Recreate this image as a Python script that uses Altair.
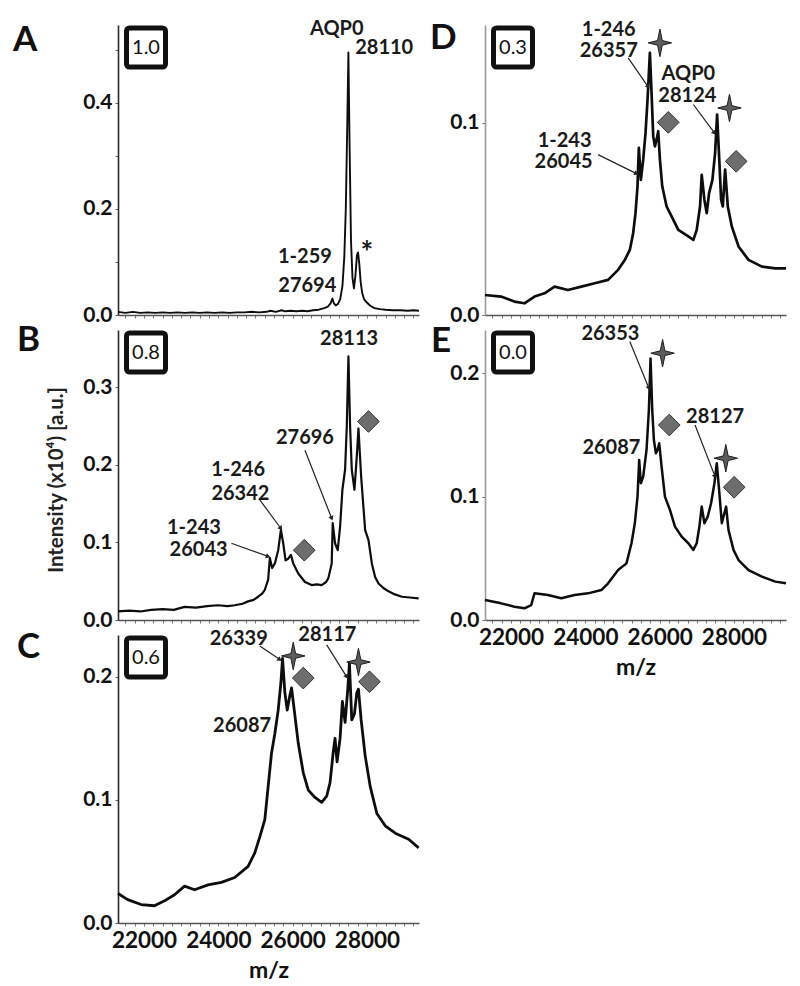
import math
import altair as alt
import pandas as pd

XDOM = [21300, 29400]
W = 301
FONT = "Lato"

# ---------------- spectra (m/z, intensity x10^4) ----------------
A_MZ = [21300, 21500, 21700, 21900, 22100, 22300, 22500, 22700, 22900, 23100,
        23300, 23500, 23700, 23900, 24100, 24300, 24500, 24700, 24900, 25100,
        25300, 25400, 25550, 25700, 25800, 25950, 26100, 26250, 26400, 26550,
        26700, 26850, 26950, 27020, 27070, 27110, 27160, 27220, 27280, 27340,
        27390, 27430, 27470, 27500, 27530, 27570, 27610, 27650, 27690, 27730,
        27760, 27795, 27830, 27870, 27920, 27990, 28080, 28200, 28350, 28500,
        28700, 28900, 29100, 29250, 29400]
A_INT = [0.006, 0.004, 0.006, 0.004, 0.005, 0.004, 0.005, 0.004, 0.005, 0.004,
         0.005, 0.004, 0.005, 0.004, 0.005, 0.004, 0.005, 0.005, 0.006, 0.005,
         0.006, 0.008, 0.006, 0.009, 0.007, 0.008, 0.007, 0.008, 0.007, 0.009,
         0.010, 0.013, 0.016, 0.022, 0.031, 0.022, 0.018, 0.021, 0.030, 0.055,
         0.110, 0.200, 0.360, 0.495, 0.330, 0.140, 0.070, 0.050, 0.075, 0.113,
         0.118, 0.095, 0.062, 0.042, 0.030, 0.024, 0.018, 0.013, 0.011, 0.010,
         0.009, 0.009, 0.008, 0.009, 0.008]

B_MZ = [21300, 21600, 21900, 22191, 22500, 22800, 23091, 23400, 23700, 23991,
        24250, 24441, 24650, 24801, 24950, 25071, 25180, 25251, 25341, 25386,
        25449, 25521, 25611, 25683, 25746, 25809, 25881, 25953, 26016, 26151,
        26331, 26511, 26650, 26781, 26900, 26961, 27051, 27078, 27141, 27213,
        27276, 27339, 27411, 27456, 27501, 27546, 27591, 27663, 27726, 27771,
        27843, 27951, 28041, 28131, 28221, 28311, 28450, 28581, 28750, 28941,
        29150, 29391]
B_INT = [0.011, 0.012, 0.011, 0.013, 0.014, 0.013, 0.017, 0.016, 0.018, 0.019,
         0.018, 0.019, 0.021, 0.024, 0.026, 0.030, 0.034, 0.039, 0.052, 0.080,
         0.067, 0.073, 0.090, 0.116, 0.099, 0.077, 0.079, 0.084, 0.073, 0.060,
         0.049, 0.045, 0.046, 0.045, 0.049, 0.054, 0.073, 0.125, 0.099, 0.090,
         0.120, 0.168, 0.194, 0.249, 0.340, 0.249, 0.194, 0.168, 0.211, 0.247,
         0.185, 0.116, 0.103, 0.073, 0.055, 0.047, 0.041, 0.037, 0.033, 0.030,
         0.029, 0.028]

C_MZ = [21300, 21561, 21921, 22281, 22551, 22821, 23091, 23361, 23721, 24081,
        24441, 24801, 24981, 25116, 25251, 25341, 25431, 25521, 25611, 25683,
        25728, 25791, 25854, 25926, 25971, 26043, 26151, 26286, 26421, 26601,
        26781, 26916, 27006, 27096, 27141, 27195, 27276, 27339, 27411, 27483,
        27528, 27591, 27663, 27726, 27771, 27843, 27951, 28086, 28266, 28491,
        28761, 29121, 29391]
C_INT = [0.024, 0.019, 0.015, 0.014, 0.018, 0.023, 0.030, 0.027, 0.031, 0.033,
         0.037, 0.046, 0.057, 0.070, 0.084, 0.111, 0.138, 0.154, 0.173, 0.195,
         0.215, 0.187, 0.173, 0.185, 0.191, 0.173, 0.146, 0.122, 0.108, 0.102,
         0.098, 0.103, 0.114, 0.140, 0.150, 0.131, 0.150, 0.180, 0.163, 0.190,
         0.211, 0.165, 0.170, 0.187, 0.190, 0.165, 0.136, 0.111, 0.089, 0.079,
         0.073, 0.068, 0.061]

D_MZ = [21300, 21732, 22092, 22362, 22632, 22902, 23172, 23532, 23892, 24252,
        24612, 24882, 25062, 25197, 25287, 25350, 25404, 25440, 25494, 25557,
        25620, 25674, 25737, 25782, 25827, 25872, 25917, 25962, 26007, 26070,
        26187, 26322, 26502, 26772, 26907, 26997, 27087, 27132, 27204, 27267,
        27330, 27420, 27492, 27546, 27600, 27654, 27699, 27762, 27834, 27942,
        28122, 28392, 28752, 29112, 29400]
D_INT = [0.0104, 0.0096, 0.0070, 0.0061, 0.0096, 0.0113, 0.0148, 0.0130, 0.0148, 0.0165,
         0.0183, 0.0235, 0.0287, 0.0339, 0.0426, 0.0530, 0.0670, 0.0870, 0.0704, 0.0809,
         0.0948, 0.1122, 0.1365, 0.1157, 0.0930, 0.0878, 0.0913, 0.0957, 0.0809, 0.0670,
         0.0565, 0.0513, 0.0443, 0.0409, 0.0391, 0.0443, 0.0565, 0.0730, 0.0600, 0.0530,
         0.0635, 0.0704, 0.0843, 0.1043, 0.0826, 0.0600, 0.0565, 0.0757, 0.0565, 0.0461,
         0.0357, 0.0287, 0.0252, 0.0243, 0.0243]

E_MZ = [21300, 21732, 22092, 22362, 22542, 22632, 22992, 23352, 23712, 24072,
        24432, 24612, 24882, 25107, 25242, 25332, 25404, 25449, 25494, 25557,
        25647, 25710, 25755, 25800, 25845, 25899, 25944, 25989, 26052, 26142,
        26277, 26412, 26592, 26772, 26907, 26997, 27069, 27132, 27204, 27294,
        27384, 27474, 27537, 27600, 27672, 27717, 27789, 27852, 27987, 28122,
        28392, 28752, 29112, 29400]
E_INT = [0.0162, 0.0135, 0.0108, 0.0095, 0.0120, 0.0216, 0.0203, 0.0176, 0.0203, 0.0216,
         0.0243, 0.0297, 0.0405, 0.0459, 0.0622, 0.0784, 0.1000, 0.1297, 0.1108, 0.1162,
         0.1378, 0.1703, 0.2120, 0.1703, 0.1459, 0.1351, 0.1378, 0.1432, 0.1243, 0.1000,
         0.0892, 0.0757, 0.0676, 0.0622, 0.0568, 0.0622, 0.0757, 0.0919, 0.0784, 0.0838,
         0.0946, 0.1108, 0.1270, 0.1054, 0.0784, 0.0838, 0.0919, 0.0730, 0.0568, 0.0486,
         0.0405, 0.0351, 0.0311, 0.0297]

# ---------------- annotations (m/z, intensity) ----------------
A_TEXT = ["AQP0", "28110", "1-259", "27694"]
A_TEXT_MZ = [27186, 28464, 26331, 26394]
A_TEXT_Y = [0.539, 0.504, 0.110, 0.054]
A_STAR_TEXT_MZ = [27996]
A_STAR_TEXT_Y = [0.115]

B_TEXT = ["28113", "27696", "1-246", "26342", "1-243", "26043"]
B_TEXT_MZ = [27519, 26331, 24531, 24594, 23343, 23469]
B_TEXT_Y = [0.362, 0.235, 0.193, 0.163, 0.119, 0.090]
B_ARROWS = [(24351, 0.099, 25341, 0.082), (25116, 0.155, 25683, 0.118), (26331, 0.219, 27051, 0.131)]
B_STARS = []
B_DIAMONDS = [(26313, 0.090), (28041, 0.256)]

C_TEXT = ["26339", "28117", "26087"]
C_TEXT_MZ = [24549, 26934, 24639]
C_TEXT_Y = [0.231, 0.234, 0.160]
C_ARROWS = [(25116, 0.225, 25656, 0.214), (26916, 0.226, 27456, 0.200)]
C_STARS = [(26016, 0.217), (27771, 0.212)]
C_DIAMONDS = [(26286, 0.199), (28068, 0.196)]

D_TEXT = ["1-246", "26357", "AQP0", "28124", "1-243", "26045"]
D_TEXT_MZ = [24630, 24630, 26772, 26745, 23442, 23415]
D_TEXT_Y = [0.1486, 0.1375, 0.1254, 0.1140, 0.0908, 0.0797]
D_ARROWS = [(25152, 0.1339, 25692, 0.1188), (26907, 0.1096, 27474, 0.0948), (24342, 0.0835, 25377, 0.0736)]
D_STARS = [(26007, 0.1417), (27879, 0.1078)]
D_DIAMONDS = [(26232, 0.1003), (28059, 0.080)]

E_TEXT = ["26353", "26087", "28127"]
E_TEXT_MZ = [24675, 24702, 27492]
E_TEXT_Y = [0.232, 0.1397, 0.1643]
E_ARROWS = [(25197, 0.2257, 25710, 0.1878), (26952, 0.158, 27492, 0.1162)]
E_STARS = [(26079, 0.2162), (27780, 0.1311)]
E_DIAMONDS = [(26259, 0.158), (28005, 0.1076)]

STAR_PATH = "M0,-1 L0.17,-0.17 L0.85,0 L0.17,0.17 L0,1 L-0.17,0.17 L-0.85,0 L-0.17,-0.17 Z"

ONE = pd.DataFrame({"v": [0]})


def panel(letter, letter_xy, box_label, mz, inten, ymax, height, yvals, ylabel_expr,
          show_xlabels, left_col, t_txt, t_mz, t_y, arrows, stars, diamonds,
          star_text=None, anchor=False, ytitle=False, line_w=2.2):
    xscale = alt.Scale(domain=XDOM, nice=False, zero=False)
    yscale = alt.Scale(domain=[0, ymax], nice=False, zero=True)
    xaxis_kw = dict(values=list(range(21500, 29400, 250)), format="d",
                    labelExpr="datum.value % 2000 == 0 ? datum.label : ''",
                    tickSize=3, tickColor="#777", domainColor="#555",
                    labelPadding=3, titlePadding=8, labelFlush=False,
                    labelFontSize=22.5, titleFontSize=23)
    if not show_xlabels:
        xaxis_kw["labels"] = False
    yaxis_kw = dict(values=yvals, format=".1f", tickSize=3, tickColor="#666",
                    domainColor="#2a2a2a" if left_col else "#9a9a9a",
                    labelPadding=3, labelFontSize=21)
    if ylabel_expr:
        yaxis_kw["labelExpr"] = ylabel_expr
    xtitle = "m/z" if show_xlabels else None

    def X(field):
        return alt.X(field, scale=xscale, axis=alt.Axis(**xaxis_kw), title=xtitle)

    def Y(field):
        return alt.Y(field, scale=yscale, axis=alt.Axis(**yaxis_kw), title=None)

    df = pd.DataFrame({"mz": mz, "y": inten})
    layers = []
    layers.append(
        alt.Chart(df).mark_line(color="#0d0d0d", strokeWidth=line_w, strokeJoin="round").encode(
            x=X("mz:Q"), y=Y("y:Q"))
    )
    tdf = pd.DataFrame({"mz": t_mz, "y": t_y, "t": t_txt})
    layers.append(
        alt.Chart(tdf).mark_text(font=FONT, fontWeight="bold", fontSize=20, color="#1a1a1a",
                                 align="center", baseline="middle").encode(
            x=X("mz:Q"), y=Y("y:Q"), text="t:N")
    )
    if star_text:
        sdf = pd.DataFrame({"mz": star_text[0], "y": star_text[1], "t": ["*"]})
        layers.append(
            alt.Chart(sdf).mark_text(font=FONT, fontWeight="bold", fontSize=30, color="#1a1a1a",
                                     align="center", baseline="middle").encode(
                x=X("mz:Q"), y=Y("y:Q"), text="t:N")
        )
    if arrows:
        pxm = W / (XDOM[1] - XDOM[0])
        pyu = height / ymax
        rows = []
        for (m1, y1, m2, y2) in arrows:
            dx = (m2 - m1) * pxm
            dy = -(y2 - y1) * pyu
            ang = math.degrees(math.atan2(dx, -dy)) % 360
            rows.append({"mz": m1, "y": y1, "mz2": m2, "y2": y2, "ang": ang})
        adf = pd.DataFrame(rows)
        layers.append(
            alt.Chart(adf).mark_rule(color="#222222", strokeWidth=1.2).encode(
                x=X("mz:Q"), y=Y("y:Q"), x2="mz2:Q", y2="y2:Q")
        )
        layers.append(
            alt.Chart(adf).mark_point(shape="triangle-up", filled=True, size=28,
                                      color="#222222", opacity=1).encode(
                x=X("mz2:Q"), y=Y("y2:Q"), angle=alt.Angle("ang:Q", scale=None))
        )
    if stars:
        sdf = pd.DataFrame({"mz": [s[0] for s in stars], "y": [s[1] for s in stars]})
        layers.append(
            alt.Chart(sdf).mark_point(shape=STAR_PATH, filled=True, size=760, fill="#5c5c5c",
                                      stroke="#1e1e1e", strokeWidth=1, opacity=1).encode(
                x=X("mz:Q"), y=Y("y:Q"))
        )
    if diamonds:
        ddf = pd.DataFrame({"mz": [s[0] for s in diamonds], "y": [s[1] for s in diamonds]})
        layers.append(
            alt.Chart(ddf).mark_point(shape="diamond", filled=True, size=470, fill="#6d6d6d",
                                      stroke="#333333", strokeWidth=1, opacity=1).encode(
                x=X("mz:Q"), y=Y("y:Q"))
        )
    # inset box
    layers.append(
        alt.Chart(ONE).mark_rect(fill="white", stroke="#111111", strokeWidth=5, cornerRadius=3).encode(
            x=alt.value(8.5), x2=alt.value(47.5), y=alt.value(3), y2=alt.value(42))
    )
    layers.append(
        alt.Chart(ONE).mark_text(text=box_label, font=FONT, fontSize=20, color="#111111",
                                 align="center", baseline="middle").encode(
            x=alt.value(28), y=alt.value(23))
    )
    # panel letter
    layers.append(
        alt.Chart(ONE).mark_text(text=letter, font=FONT, fontWeight="bold", fontSize=35,
                                 color="#111111", align="left", baseline="alphabetic").encode(
            x=alt.value(letter_xy[0]), y=alt.value(letter_xy[1]))
    )
    if ytitle:
        layers.append(
            alt.Chart(ONE).mark_text(text="Intensity (x10⁴) [a.u.]", font=FONT, fontWeight="bold",
                                     fontSize=20.5, color="#222222", angle=270,
                                     align="center", baseline="middle").encode(
                x=alt.value(-61), y=alt.value(150))
        )
    if anchor:
        layers.append(
            alt.Chart(ONE).mark_rule(color="#ffffff", strokeWidth=0.5).encode(
                x=alt.value(-109), x2=alt.value(-108), y=alt.value(-16.5), y2=alt.value(-16.5))
        )
    return alt.layer(*layers).properties(width=W, height=height)


pA = panel("A", (-105, 25.5), "1.0", A_MZ, A_INT, 0.547, 290, [0, 0.1, 0.2, 0.3, 0.4, 0.5],
           "round(datum.value*10) % 2 == 0 ? datum.label : ''", False, True,
           A_TEXT, A_TEXT_MZ, A_TEXT_Y, [], [], [],
           star_text=(A_STAR_TEXT_MZ, A_STAR_TEXT_Y), anchor=True, line_w=1.9)
pB = panel("B", (-101, 21), "0.8", B_MZ, B_INT, 0.374, 290, [0, 0.1, 0.2, 0.3], None, False, True,
           B_TEXT, B_TEXT_MZ, B_TEXT_Y, B_ARROWS, B_STARS, B_DIAMONDS, ytitle=True, line_w=2.2)
pC = panel("C", (-101, 23), "0.6", C_MZ, C_INT, 0.234, 288, [0, 0.1, 0.2], None, True, True,
           C_TEXT, C_TEXT_MZ, C_TEXT_Y, C_ARROWS, C_STARS, C_DIAMONDS, line_w=2.8)
pD = panel("D", (-55, 23.5), "0.3", D_MZ, D_INT, 0.151, 290, [0, 0.1], None, False, False,
           D_TEXT, D_TEXT_MZ, D_TEXT_Y, D_ARROWS, D_STARS, D_DIAMONDS, line_w=2.7)
pE = panel("E", (-54, 22), "0.0", E_MZ, E_INT, 0.235, 290, [0, 0.1, 0.2], None, True, False,
           E_TEXT, E_TEXT_MZ, E_TEXT_Y, E_ARROWS, E_STARS, E_DIAMONDS, line_w=2.5)

chart = alt.ConcatChart(
    concat=[pA, pD, pB, pE, pC], columns=2,
    spacing=alt.RowColnumber(row=15, column=66), bounds="flush"
).properties(padding=0, background="white").configure_view(stroke=None).configure_axis(
    grid=False, labelFont=FONT, labelFontSize=20, labelFontWeight="bold", labelColor="#111111",
    titleFont=FONT, titleFontSize=22, titleFontWeight="bold", titleColor="#111111",
    domainWidth=1.6, tickWidth=1
)

chart.save("out.html", embed_options={"renderer": "svg", "actions": False})
